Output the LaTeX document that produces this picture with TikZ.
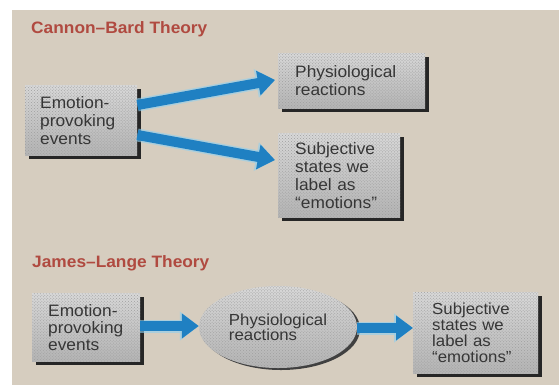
\documentclass[tikz,border=0pt]{standalone}
\usepackage{fontspec}
\setmainfont{Liberation Sans}[FakeStretch=1.05]
\usetikzlibrary{arrows.meta,shadows,patterns,shapes.geometric}
\definecolor{paper}{HTML}{D6CDBF}
\definecolor{titlered}{HTML}{B04A40}
\definecolor{arrowblue}{HTML}{1F80C2}
\definecolor{arrowglow}{HTML}{8FD0F0}
\definecolor{boxlight}{HTML}{D8D8D8}
\definecolor{boxdark}{HTML}{B4B4B4}
\definecolor{inktext}{HTML}{363636}
\begin{document}
\begin{tikzpicture}[x=1bp,y=-1bp,
  theorytitle/.style={anchor=base west,inner sep=0pt,text=titlered,
    font=\fontsize{16.5bp}{18bp}\selectfont\bfseries},
  card/.style={anchor=north west,rectangle,inner ysep=0pt,
    top color=boxlight,bottom color=boxdark,
    postaction={pattern=crosshatch dots,pattern color=gray!75},
    drop shadow={shadow xshift=3.5bp,shadow yshift=-3.5bp,fill=black!85,opacity=1},
    text=inktext,align=left,
    font=\fontsize{16.5bp}{18bp}\selectfont},
  blob/.style={ellipse,inner sep=0pt,
    top color=boxlight,bottom color=boxdark,
    postaction={pattern=crosshatch dots,pattern color=gray!75},
    drop shadow={shadow xshift=3bp,shadow yshift=-2bp,fill=black!75,opacity=1},
    text=inktext,align=left,
    font=\fontsize{16bp}{15bp}\selectfont},
  fatarrow/.style={line width=10bp,draw=arrowblue,
    -{Triangle[length=17bp,width=24bp]},shorten <=0pt},
  glow/.style={line width=13bp,draw=arrowglow,opacity=0.6,
    -{Triangle[length=19bp,width=28bp]}}
]
\useasboundingbox (0,0) rectangle (559,385);
\fill[white] (0,0) rectangle (559,385);
\fill[paper] (12,10) rectangle (559,385);

% Cannon-Bard theory
\node[theorytitle] (cbtitle) at (31,33) {Cannon--Bard Theory};
\node[card,minimum width=112bp,minimum height=70bp,
  text width=82bp,inner xsep=15bp] (cbevents) at (25,85)
  {Emotion-\\provoking\\events};
\node[card,minimum width=147bp,minimum height=55bp,
  text width=113bp,inner xsep=17bp] (cbphys) at (278,53)
  {Physiological\\reactions};
\node[card,minimum width=122bp,minimum height=84bp,
  text width=88bp,inner xsep=17bp] (cbsubj) at (278,133)
  {Subjective\\states we\\label as\\``emotions''};

\coordinate (cbtipA) at (275,80);
\coordinate (cbtipB) at (275,160);
\draw[glow] (cbevents.east |- 0,105) -- (cbtipA);
\draw[glow] (cbevents.east |- 0,135) -- (cbtipB);
\draw[fatarrow] (cbevents.east |- 0,105) -- (cbtipA);
\draw[fatarrow] (cbevents.east |- 0,135) -- (cbtipB);

% James-Lange theory
\node[theorytitle] (jltitle) at (32,267) {James--Lange Theory};
\node[card,minimum width=108bp,minimum height=68bp,
  text width=76bp,inner xsep=16bp,
  font=\fontsize{16.5bp}{17bp}\selectfont] (jlevents) at (32,293)
  {Emotion-\\provoking\\events};
\node[blob,minimum width=158bp,minimum height=82bp] (jlphys) at (278,327)
  {Physiological\\reactions};
\node[card,minimum width=125bp,minimum height=81bp,
  text width=87bp,inner xsep=19bp,
  font=\fontsize{16bp}{16bp}\selectfont] (jlsubj) at (413,292)
  {Subjective\\states we\\label as\\``emotions''};

\draw[glow] (jlevents.east |- 0,326) -- (jlphys.west |- 0,326);
\draw[fatarrow] (jlevents.east |- 0,326) -- (jlphys.west |- 0,326);
\draw[glow] (jlphys.east |- 0,328) -- (jlsubj.west |- 0,328);
\draw[fatarrow] (jlphys.east |- 0,328) -- (jlsubj.west |- 0,328);
\end{tikzpicture}
\end{document}
